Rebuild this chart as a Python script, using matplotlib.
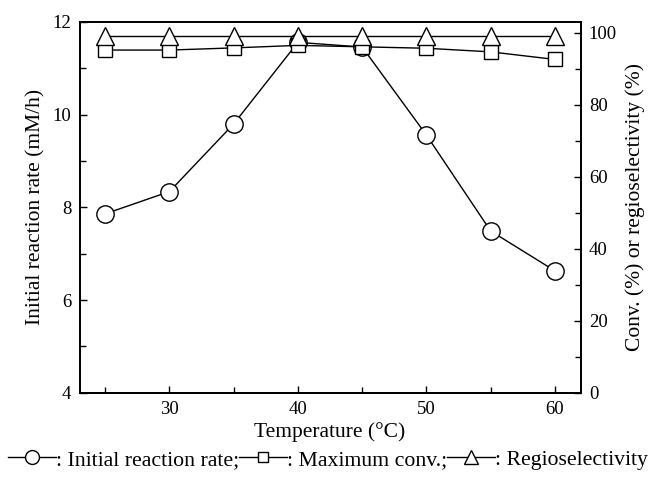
import matplotlib.pyplot as plt
from matplotlib.lines import Line2D
from matplotlib.ticker import MultipleLocator

plt.rcParams['font.family'] = ['Liberation Serif', 'DejaVu Serif']

# data
temperature = [25, 30, 35, 40, 45, 50, 55, 60]
init_rate = [7.86, 8.34, 9.80, 11.56, 11.46, 9.56, 7.49, 6.63]       # mM/h, left axis
max_conv = [95.2, 95.2, 95.8, 96.5, 96.1, 95.7, 94.7, 92.6]          # %, right axis
regiosel = [99.1, 99.1, 99.1, 99.1, 99.1, 99.1, 99.1, 99.1]          # %, right axis

fig = plt.figure(figsize=(6.56, 4.78), dpi=100)
ax = fig.add_axes([0.1212, 0.1785, 0.7638, 0.7755])
ax2 = ax.twinx()

mk = dict(color='black', lw=1.0, markerfacecolor='white', markeredgecolor='black', markeredgewidth=1.0)
ax.plot(temperature, init_rate, marker='o', markersize=12.5, **mk)
ax2.plot(temperature, max_conv, marker='s', markersize=10.5, **mk)
ax2.plot(temperature, regiosel, marker='^', markersize=13, **mk)

ax.set_xlim(23, 62)
ax.set_ylim(4, 12)
ax2.set_ylim(0, 103)

ax.xaxis.set_major_locator(MultipleLocator(10))
ax.xaxis.set_minor_locator(MultipleLocator(5))
ax.yaxis.set_major_locator(MultipleLocator(2))
ax.yaxis.set_minor_locator(MultipleLocator(1))
ax2.yaxis.set_major_locator(MultipleLocator(20))
ax2.yaxis.set_minor_locator(MultipleLocator(10))

for a in (ax, ax2):
    a.tick_params(which='both', direction='in', labelsize=13.5, width=1.0, pad=6)
    a.tick_params(which='major', length=5)
    a.tick_params(which='minor', length=4)
    for s in a.spines.values():
        s.set_linewidth(1.3)
ax.tick_params(which='both', top=False, right=False)
ax2.tick_params(which='both', left=False, right=True)

ax.set_xlabel('Temperature (°C)', fontsize=15.5, labelpad=3)
ax.set_ylabel('Initial reaction rate (mM/h)', fontsize=15.5, labelpad=5)
ax2.set_ylabel('Conv. (%) or regioselectivity (%)', fontsize=15.5, labelpad=6)

handles = [
    Line2D([], [], marker='o', markersize=10, **mk),
    Line2D([], [], marker='s', markersize=7.5, **mk),
    Line2D([], [], marker='^', markersize=10, **mk),
]
labels = [': Initial reaction rate;', ': Maximum conv.;', ': Regioselectivity']
fig.legend(handles, labels, loc='center', bbox_to_anchor=(0.5, 0.038), ncol=3,
           frameon=False, fontsize=15.7, handlelength=2.2, handletextpad=0.0,
           columnspacing=0.0, borderpad=0)

fig.savefig('out.png', dpi=100)
